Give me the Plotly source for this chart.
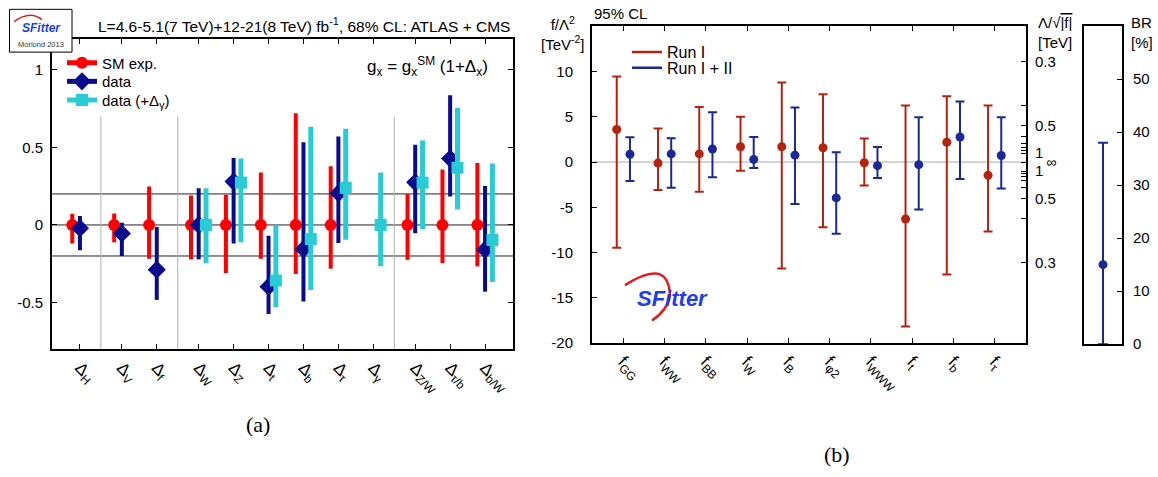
import numpy as np
import plotly.graph_objects as go

W, H = 1158, 477
def X(px): return px / W
def Y(py): return 1 - py / H

FONT = "Liberation Sans"

# ---------------- panel (a) data ----------------
groups_a = [["H"], ["V", "f"], ["W", "Z", "t", "b", "τ", "γ"], ["Z/W", "τ/b", "b/W"]]
labels_a = [f"Δ<sub>{s}</sub>" for g in groups_a for s in g]

sm_c  = [0, 0, 0, 0, 0, 0, 0, 0, None, 0, 0, 0]
sm_lo = [-0.119, -0.112, -0.218, -0.222, -0.31, -0.218, -0.316, -0.282, None, -0.225, -0.246, -0.267]
sm_hi = [0.072, 0.074, 0.248, 0.19, 0.195, 0.339, 0.72, 0.379, None, 0.2, 0.358, 0.40]

dat_c  = [-0.021, -0.055, -0.288, 0.0, 0.28, -0.398, -0.155, 0.205, None, 0.275, 0.428, -0.159]
dat_lo = [-0.163, -0.20, -0.483, -0.222, -0.12, -0.574, -0.494, -0.117, None, -0.053, 0.184, -0.43]
dat_hi = [0.057, 0.015, -0.013, 0.237, 0.432, -0.07, 0.534, 0.57, None, 0.517, 0.837, 0.252]

dg_c  = [None, None, None, 0.0, 0.273, -0.358, -0.091, 0.239, 0.0, 0.273, 0.369, -0.097]
dg_lo = [None, None, None, -0.246, -0.112, -0.53, -0.419, -0.095, -0.265, -0.028, 0.10, -0.367]
dg_hi = [None, None, None, 0.237, 0.428, -0.006, 0.633, 0.62, 0.339, 0.544, 0.756, 0.396]

ref_lines_a = [0.2, 0.0, -0.2]
yticks_a = [-0.5, 0, 0.5, 1]

# ---------------- panel (b) data ----------------
labels_b = ["f<sub>GG</sub>", "f<sub>WW</sub>", "f<sub>BB</sub>", "f<sub>W</sub>", "f<sub>B</sub>",
            "f<sub>φ2</sub>", "f<sub>WWW</sub>", "f<sub>t</sub>", "f<sub>b</sub>", "f<sub>τ</sub>"]
run1_c  = [3.6, -0.11, 0.9, 1.69, 1.69, 1.58, -0.07, -6.29, 2.19, -1.47]
run1_lo = [-9.46, -3.09, -3.27, -0.97, -11.76, -7.19, -2.59, -18.17, -12.41, -7.66]
run1_hi = [9.46, 3.7, 6.08, 5.0, 8.78, 7.48, 2.59, 6.26, 7.27, 6.26]
run12_c  = [0.86, 0.9, 1.44, 0.29, 0.76, -3.96, -0.4, -0.29, 2.77, 0.72]
run12_lo = [-2.09, -2.84, -1.69, -0.65, -4.64, -7.91, -1.76, -5.25, -1.87, -2.91]
run12_hi = [2.73, 2.63, 5.5, 2.77, 6.04, 1.08, 1.65, 4.96, 6.69, 4.96]
yticks_b = [-20, -15, -10, -5, 0, 5, 10]
lam_ticks = [0.3, 0.4, 0.5, 0.6, 0.7, 0.8, 0.9, 1.0]
lam_labeled = [0.3, 0.5, 1.0]

br_c, br_lo, br_hi = [15], [0], [38]
br_ticks = [0, 10, 20, 30, 40, 50]

# ---------------- derived positions ----------------
pos_a = []
p = 0.0
for gi, g in enumerate(groups_a):
    for _ in g:
        pos_a.append(p)
        p += 1.0
    p += 0.2
starts = np.cumsum([len(g) for g in groups_a])[:-1]
seps = [(pos_a[i - 1] + pos_a[i]) / 2 for i in starts]

def errs(c, lo, hi):
    up = [None if v is None else h - v for v, h in zip(c, hi)]
    dn = [None if v is None else v - l for v, l in zip(c, lo)]
    return up, dn

RED, DBLUE, CYAN = "#ff0000", "#0b0b8e", "#27ccd4"
RED2, BLUE2 = "#b5230e", "#1c2896"

fig = go.Figure()

# panel (a) traces
for c, lo, hi, off, col, sym, size, thick in [
        (sm_c, sm_lo, sm_hi, -0.22, RED, "circle", 12, 4),
        (dat_c, dat_lo, dat_hi, 0.0, DBLUE, "diamond", 14, 4),
        (dg_c, dg_lo, dg_hi, 0.21, CYAN, "square", 12, 5)]:
    up, dn = errs(c, lo, hi)
    fig.add_trace(go.Scatter(
        x=[q + off for q in pos_a], y=c, mode="markers",
        marker=dict(symbol=sym, size=size, color=col, line=dict(width=0)),
        error_y=dict(type="data", symmetric=False, array=up, arrayminus=dn,
                     color=col, thickness=thick, width=0),
        xaxis="x", yaxis="y", showlegend=False, cliponaxis=False))

# panel (b) traces
for c, lo, hi, off, col in [(run1_c, run1_lo, run1_hi, -0.16, RED2),
                            (run12_c, run12_lo, run12_hi, 0.16, BLUE2)]:
    up, dn = errs(c, lo, hi)
    fig.add_trace(go.Scatter(
        x=[i + off for i in range(len(c))], y=c, mode="markers",
        marker=dict(symbol="circle", size=9, color=col),
        error_y=dict(type="data", symmetric=False, array=up, arrayminus=dn,
                     color=col, thickness=2, width=4.5),
        xaxis="x2", yaxis="y2", showlegend=False))

# placeholder so the Lambda axis subplot is drawn
fig.add_trace(go.Scatter(x=[None], y=[None], mode="markers", xaxis="x2", yaxis="y3",
                         showlegend=False, hoverinfo="skip"))

# BR trace
up, dn = errs(br_c, br_lo, br_hi)
fig.add_trace(go.Scatter(
    x=[0], y=br_c, mode="markers", marker=dict(symbol="circle", size=9, color=BLUE2),
    error_y=dict(type="data", symmetric=False, array=up, arrayminus=dn,
                 color=BLUE2, thickness=2, width=5),
    xaxis="x3", yaxis="y4", showlegend=False))

# legend entries (each in its own legend for exact spacing)
leg_a = [("SM exp.", RED, "circle", 12, "legend", 64),
         ("data", DBLUE, "diamond", 14, "legend2", 83),
         ("data (+Δ<sub>γ</sub>)", CYAN, "square", 12, "legend3", 102)]
for name, col, sym, size, lg, _ in leg_a:
    fig.add_trace(go.Scatter(x=[None], y=[None], mode="lines+markers", name=name,
                             line=dict(color=col, width=5),
                             marker=dict(symbol=sym, size=size, color=col),
                             xaxis="x", yaxis="y", legend=lg, showlegend=True))
leg_b = [("Run I", RED2, "legend4", 53), ("Run I + II", BLUE2, "legend5", 69)]
for name, col, lg, _ in leg_b:
    fig.add_trace(go.Scatter(x=[None], y=[None], mode="lines", name=name,
                             line=dict(color=col, width=2.5),
                             xaxis="x2", yaxis="y2", legend=lg, showlegend=True))

legends = {}
for name, col, sym, size, lg, yy in leg_a:
    legends[lg] = dict(x=X(62), y=Y(yy), xanchor="left", yanchor="middle",
                       bgcolor="rgba(0,0,0,0)", font=dict(family=FONT, size=15, color="black"))
for name, col, lg, yy in leg_b:
    legends[lg] = dict(x=X(627), y=Y(yy), xanchor="left", yanchor="middle",
                       bgcolor="rgba(0,0,0,0)", font=dict(family=FONT, size=16, color="black"))

# Lambda axis tick values
lam_vals, lam_text = [], []
for lam in lam_ticks:
    f = 1.0 / lam ** 2
    lbl = (f"{lam:g}" if lam in lam_labeled else " ")
    lam_vals += [f, -f]
    lam_text += [lbl, lbl]
lam_vals.append(0.0)
lam_text.append("\u2007\u2009<span style='font-size:14px'>∞</span>")

axcommon = dict(showgrid=False, zeroline=False, showline=True, linecolor="black",
                linewidth=2, ticks="inside", tickcolor="black", tickwidth=1,
                tickfont=dict(family=FONT, size=15, color="black"))

shapes = []
for v in ref_lines_a:
    shapes.append(dict(type="line", xref="x domain", x0=0, x1=1, yref="y", y0=v, y1=v,
                       line=dict(color="#222222", width=1), layer="below"))
for s in seps:
    shapes.append(dict(type="line", xref="x", x0=s, x1=s, yref="y", y0=0.7, y1=-0.8,
                       line=dict(color="#b0b0b0", width=1), layer="below"))
shapes.append(dict(type="line", xref="x2 domain", x0=0, x1=1, yref="y2", y0=0, y1=0,
                   line=dict(color="#aaaaaa", width=1), layer="below"))
# logo box (a)
shapes.append(dict(type="rect", xref="paper", yref="paper", x0=X(9.5), x1=X(72), y0=Y(53), y1=Y(9.5),
                   line=dict(color="black", width=1), fillcolor="white"))
# logo swooshes
shapes.append(dict(type="path", xref="paper", yref="paper",
                   path=f"M {X(14)},{Y(22)} Q {X(30)},{Y(10)} {X(42)},{Y(20)}",
                   line=dict(color="#e02020", width=1.5)))
shapes.append(dict(type="path", xref="paper", yref="paper",
                   path=f"M {X(625)},{Y(290)} Q {X(668)},{Y(262)} {X(670)},{Y(300)} Q {X(668)},{Y(315)} {X(652)},{Y(326)}",
                   line=dict(color="#e02020", width=2.5)))

ann = [
    dict(x=X(512), y=Y(25), xanchor="right", yanchor="middle",
         text="L=4.6-5.1(7 TeV)+12-21(8 TeV) fb<sup>-1</sup>, 68% CL: ATLAS + CMS",
         font=dict(family=FONT, size=15.5, color="black")),
    dict(x=X(490), y=Y(68), xanchor="right", yanchor="middle",
         text="g<sub>x</sub> = g<sub>x</sub><sup>SM</sup> (1+Δ<sub>x</sub>)",
         font=dict(family=FONT, size=17, color="black")),
    dict(x=X(41), y=Y(28), xanchor="center", yanchor="middle",
         text="<b><i>SFitter</i></b>", font=dict(family=FONT, size=12, color="#1f3cf0")),
    dict(x=X(41), y=Y(45), xanchor="center", yanchor="middle",
         text="Moriond 2013", font=dict(family=FONT, size=7.5, color="#333333")),
    dict(x=X(592), y=Y(14), xanchor="left", yanchor="middle",
         text="95% CL", font=dict(family=FONT, size=15, color="black")),
    dict(x=X(587), y=Y(34), xanchor="right", yanchor="middle", align="center",
         text="f/Λ<sup>2</sup><br>[TeV<sup>-2</sup>]", font=dict(family=FONT, size=15, color="black")),
    dict(x=X(1036), y=Y(33), xanchor="left", yanchor="middle", align="left",
         text="Λ/√<span style='text-decoration:overline'>|f|</span><br>[TeV]",
         font=dict(family=FONT, size=15, color="black")),
    dict(x=X(1129), y=Y(33), xanchor="left", yanchor="middle", align="left",
         text="BR<br>[%]", font=dict(family=FONT, size=15, color="black")),
    dict(x=X(672), y=Y(304), xanchor="center", yanchor="middle",
         text="<b><i>SFitter</i></b>", font=dict(family=FONT, size=22, color="#1f3cf0")),
    dict(x=X(258), y=Y(432), xanchor="center", yanchor="middle",
         text="(a)", font=dict(family="Liberation Serif", size=22, color="black")),
    dict(x=X(837), y=Y(462), xanchor="center", yanchor="middle",
         text="(b)", font=dict(family="Liberation Serif", size=22, color="black")),
]
for a in ann:
    a.update(xref="paper", yref="paper", showarrow=False)

big_tick = dict(family=FONT, size=17, color="black")
layout = dict(
    width=W, height=H, margin=dict(l=0, r=0, t=0, b=0),
    paper_bgcolor="white", plot_bgcolor="white",
    font=dict(family=FONT, color="black"),
    xaxis=dict(axcommon, domain=[X(52), X(513)], range=[-0.8, 12.4], anchor="y",
               tickvals=pos_a, ticktext=labels_a, tickangle=45, mirror="ticks", ticklen=5,
               tickfont=big_tick),
    yaxis=dict(axcommon, domain=[Y(355), Y(39.5)], range=[-0.8, 1.2], anchor="x",
               tickvals=yticks_a, ticktext=[f"{v:g}" for v in yticks_a], mirror="ticks", ticklen=5,
               ticklabelstandoff=4),
    xaxis2=dict(axcommon, domain=[X(592), X(1026)], range=[-0.76, 9.76], anchor="y2",
                tickvals=list(range(len(labels_b))), ticktext=labels_b, tickangle=45,
                mirror="ticks", ticklen=5, tickfont=big_tick),
    yaxis2=dict(axcommon, domain=[Y(349), Y(26.7)], range=[-20, 15], anchor="x2",
                tickvals=yticks_b, ticktext=[f"{v:g}" for v in yticks_b], mirror=True, ticklen=5,
                ticklabelstandoff=14),
    yaxis3=dict(axcommon, overlaying="y2", side="right", anchor="x2", range=[-20, 15],
                tickvals=lam_vals, ticktext=lam_text, showline=False, ticklen=5,
                ticklabelstandoff=8),
    xaxis3=dict(axcommon, domain=[X(1084), X(1122)], range=[-1, 1], anchor="y4",
                showticklabels=False, ticks="", mirror=True),
    yaxis4=dict(axcommon, domain=[Y(350), Y(26.7)], range=[0, 60], anchor="x3", side="right",
                tickvals=br_ticks, mirror=True, ticklen=5, ticklabelstandoff=6),
    shapes=shapes, annotations=ann,
)
layout.update(legends)
fig.update_layout(**layout)

fig.write_html("out.html", config={"displayModeBar": False})
